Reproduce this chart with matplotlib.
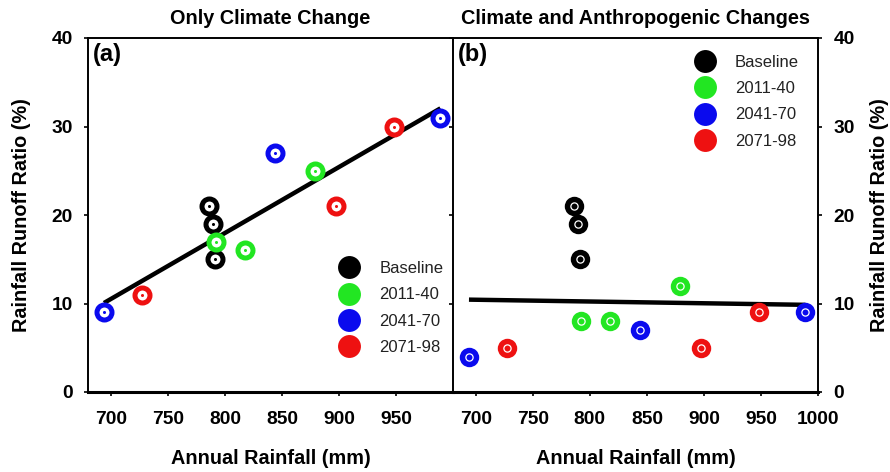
import numpy as np
import matplotlib
matplotlib.use("Agg")
import matplotlib.pyplot as plt
from matplotlib.lines import Line2D

plt.rcParams['font.family'] = ['Liberation Sans', 'DejaVu Sans']

# Annual rainfall (mm) for each period; same rainfall in both scenarios
periods = ["Baseline", "2011-40", "2041-70", "2071-98"]
colors = ["#000000", "#22e622", "#0a0aee", "#ee1111"]
rain_baseline = [786, 790, 791]
rain_2011 = [792, 818, 879]
rain_2041 = [694, 844, 989]
rain_2071 = [727, 897, 948]

# Rainfall runoff ratio (%) - climate change only
rr_clim_baseline = [21, 19, 15]
rr_clim_2011 = [17, 16, 25]
rr_clim_2041 = [9, 27, 31]
rr_clim_2071 = [11, 21, 30]

# Rainfall runoff ratio (%) - climate and anthropogenic changes
rr_anth_baseline = [21, 19, 15]
rr_anth_2011 = [8, 8, 12]
rr_anth_2041 = [4, 7, 9]
rr_anth_2071 = [5, 5, 9]

xticks_a = [700, 750, 800, 850, 900, 950]
xticks_b = [700, 750, 800, 850, 900, 950, 1000]
yticks = [0, 10, 20, 30, 40]

rain = [rain_baseline, rain_2011, rain_2041, rain_2071]
rr_clim = [rr_clim_baseline, rr_clim_2011, rr_clim_2041, rr_clim_2071]
rr_anth = [rr_anth_baseline, rr_anth_2011, rr_anth_2041, rr_anth_2071]

fig = plt.figure(figsize=(8.9, 4.72), dpi=100)
ax_a = fig.add_axes([88 / 890, 80 / 472, 365 / 890, 354 / 472])
ax_b = fig.add_axes([453 / 890, 80 / 472, 365 / 890, 354 / 472])

tick_font = dict(fontsize=13.8, fontweight='bold')
label_font = dict(fontsize=14.3, fontweight='bold')


def fit_line(ax, xs, ys):
    xs = np.asarray(xs, float)
    ys = np.asarray(ys, float)
    slope, icpt = np.polyfit(xs, ys, 1)
    xx = np.array([xs.min(), xs.max()])
    ax.plot(xx, slope * xx + icpt, color='black', lw=3.2, zorder=2,
            solid_capstyle='butt')


# (a) climate change only: open rings with a centre dot
for xs, ys, c in zip(rain, rr_clim, colors):
    ax_a.plot(xs, ys, 'o', ms=10.8, mfc='white', mec=c, mew=3.6, zorder=3)
    ax_a.plot(xs, ys, 'o', ms=2.2, mfc=c, mec=c, mew=0, zorder=4)
fit_line(ax_a, sum(rain, []), sum(rr_clim, []))

# (b) climate and anthropogenic changes: filled discs with a light inner ring
for xs, ys, c in zip(rain, rr_anth, colors):
    ax_b.plot(xs, ys, 'o', ms=14, mfc=c, mec=c, mew=0, zorder=3)
    ax_b.plot(xs, ys, 'o', ms=5.2, mfc='none', mec='white', mew=0.9, zorder=4)
fit_line(ax_b, sum(rain, []), sum(rr_anth, []))

for ax in (ax_a, ax_b):
    ax.set_xlim(680, 1000)
    ax.set_ylim(0, 40)
    ax.set_yticks(yticks)
    ax.tick_params(direction='out', length=3, width=1.2, pad=8)
    ax.tick_params(axis='x', pad=11)
    ax.spines['bottom'].set_linewidth(2.2)
    for s in ('left', 'right', 'top'):
        ax.spines[s].set_linewidth(1.4)
    ax.set_xlabel('Annual Rainfall (mm)', labelpad=15, **label_font)

ax_a.set_xticks(xticks_a)
ax_a.set_xticklabels([str(v) for v in xticks_a], **tick_font)
ax_a.set_yticklabels([str(v) for v in yticks], **tick_font)
ax_a.spines['right'].set_visible(False)
ax_a.set_ylabel('Rainfall Runoff Ratio (%)', labelpad=15, **label_font)

ax_b.set_xticks(xticks_b)
ax_b.set_xticklabels([str(v) for v in xticks_b], **tick_font)
ax_b.yaxis.tick_right()
ax_b.tick_params(axis='y', which='both', left=True, right=True,
                 labelleft=False, labelright=True)
ax_b.set_yticklabels([str(v) for v in yticks], **tick_font)
ax_b.yaxis.set_label_position('right')
ax_b.set_ylabel('Rainfall Runoff Ratio (%)', labelpad=11, rotation=90,
                **label_font)

ax_a.set_title('Only Climate Change', pad=10, **label_font)
ax_b.set_title('Climate and Anthropogenic Changes', pad=10, **label_font)

ax_a.text(0.012, 0.985, '(a)', transform=ax_a.transAxes, ha='left', va='top',
          fontsize=17, fontweight='bold')
ax_b.text(0.012, 0.985, '(b)', transform=ax_b.transAxes, ha='left', va='top',
          fontsize=17, fontweight='bold')

handles = [Line2D([], [], ls='none', marker='o', ms=16.5, mfc=c, mec=c, mew=0)
           for c in colors]
leg_kw = dict(frameon=False, fontsize=12, handlelength=1.6,
              handletextpad=1.0, labelspacing=0.68, borderpad=0,
              borderaxespad=0, loc='center left', labelcolor='#222222')
ax_a.legend(handles, periods, bbox_to_anchor=(0.679, 0.237), **leg_kw)
ax_b.legend(handles, periods, bbox_to_anchor=(0.653, 0.82), **leg_kw)

fig.savefig('out.png', dpi=100)
